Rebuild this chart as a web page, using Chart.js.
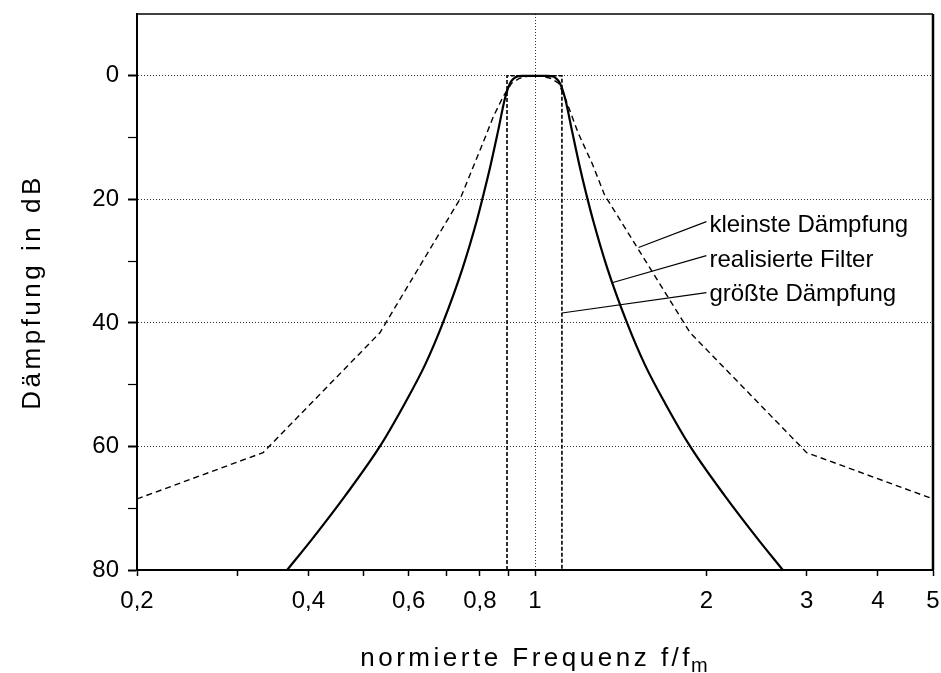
<!DOCTYPE html>
<html lang="de">
<head>
<meta charset="utf-8">
<title>Dämpfung in dB</title>
<script src="https://cdn.jsdelivr.net/npm/chart.js@4.4.1/dist/chart.umd.min.js"></script>
<style>
  html, body { margin: 0; padding: 0; background: #fff; }
  #wrap { width: 941px; height: 673px; }
</style>
</head>
<body>
<div id="wrap"><canvas id="daempfung" width="941" height="673"></canvas></div>
<script>
// Achsen: normierte Frequenz (log) und Dämpfung
const xTickValues = [0.2, 0.3, 0.4, 0.5, 0.6, 0.7, 0.8, 0.9, 1, 2, 3, 4, 5];
const xTickLabels = { 0.2: '0,2', 0.4: '0,4', 0.6: '0,6', 0.8: '0,8', 1: '1', 2: '2', 3: '3', 4: '4', 5: '5' };
const yTickValues = [0, 10, 20, 30, 40, 50, 60, 70, 80];
const yTickLabels = [0, 20, 40, 60, 80];

// realisierte Filter
const filterFreq = [0.367, 0.406, 0.464, 0.534, 0.591, 0.641, 0.689, 0.747, 0.791, 0.810, 0.834, 0.861, 0.886, 0.904, 0.919, 0.934, 0.953,
                    1.049, 1.071, 1.088, 1.106, 1.129, 1.162, 1.199, 1.234, 1.264, 1.338, 1.451, 1.56, 1.692, 1.873, 2.155, 2.463, 2.724];
const filterDb   = [80, 75, 68, 60, 53, 46.8, 40, 31, 23.3, 19.6, 14.8, 9.0, 3.6, 1.2, 0.4, 0.05, 0,
                    0, 0.05, 0.4, 1.2, 3.6, 9.0, 14.8, 19.6, 23.3, 31, 40, 46.8, 53, 60, 68, 75, 80];

// kleinste Dämpfung
const minFreq = [0.2, 0.333, 0.534, 0.74, 0.78, 0.81, 0.845, 0.88, 0.91, 0.94, 0.97,
                 1.03, 1.065, 1.10, 1.13, 1.19, 1.26, 1.325, 1.873, 3.0, 5.0];
const minDb   = [68.5, 61, 41.6, 19.8, 14.6, 10.9, 6.6, 3.3, 1.2, 0.4, 0.1,
                 0.1, 0.4, 1.2, 3.6, 9.2, 14.2, 19.3, 41.6, 61, 68.5];

// größte Dämpfung (Durchlassbereich)
const maxFreq = [0.893, 0.893, 1.115, 1.115];
const maxDb   = [80, 0, 0, 80];

// Beschriftungen mit Hinweislinien
const noteTexts      = ['kleinste Dämpfung', 'realisierte Filter', 'größte Dämpfung'];
const noteTargetFreq = [1.52, 1.365, 1.115];
const noteTargetDb   = [27.8, 33.5, 38.4];
const noteLineFreq   = 2.0;
const noteLineEndDb  = [23.6, 29.1, 35.1];
const noteTextDb     = [25.3, 31.0, 36.5];

const FONT = '"Liberation Sans", Arial, Helvetica, sans-serif';

function toPoints(xs, ys) {
  return xs.map((x, i) => ({ x: x, y: ys[i] }));
}

// Rahmen, Achsentitel und Beschriftungen
const beschriftung = {
  id: 'beschriftung',
  afterDraw(chart) {
    const { ctx, chartArea: a, scales: { x, y } } = chart;
    ctx.save();
    ctx.strokeStyle = '#000';
    ctx.fillStyle = '#000';

    ctx.lineWidth = 1.5;
    ctx.beginPath(); ctx.moveTo(a.left, a.top); ctx.lineTo(a.right, a.top); ctx.stroke();
    ctx.lineWidth = 2.5;
    ctx.beginPath(); ctx.moveTo(a.right, a.top); ctx.lineTo(a.right, a.bottom); ctx.stroke();

    ctx.lineWidth = 1.2;
    ctx.font = '24px ' + FONT;
    ctx.textAlign = 'left';
    ctx.textBaseline = 'alphabetic';
    noteTexts.forEach((t, i) => {
      const x1 = x.getPixelForValue(noteTargetFreq[i]);
      const y1 = y.getPixelForValue(noteTargetDb[i]);
      const x2 = x.getPixelForValue(noteLineFreq);
      const y2 = y.getPixelForValue(noteLineEndDb[i]);
      ctx.beginPath(); ctx.moveTo(x1, y1); ctx.lineTo(x2, y2); ctx.stroke();
      ctx.fillText(t, x2 + 3, y.getPixelForValue(noteTextDb[i]));
    });

    // y-Achsentitel
    ctx.save();
    ctx.font = '26px ' + FONT;
    ctx.letterSpacing = '3.5px';
    ctx.translate(33, (a.top + a.bottom) / 2);
    ctx.rotate(-Math.PI / 2);
    ctx.textAlign = 'center';
    ctx.textBaseline = 'middle';
    ctx.fillText('Dämpfung in dB', 0, 0);
    ctx.restore();

    // x-Achsentitel mit Index m
    const main = 'normierte Frequenz f/f';
    ctx.font = '26px ' + FONT;
    ctx.letterSpacing = '3.5px';
    const w1 = ctx.measureText(main).width;
    ctx.font = '20px ' + FONT;
    ctx.letterSpacing = '0px';
    const w2 = ctx.measureText('m').width;
    const start = (a.left + a.right) / 2 - (w1 + w2) / 2;
    ctx.font = '26px ' + FONT;
    ctx.letterSpacing = '3.5px';
    ctx.fillText(main, start, 666);
    ctx.font = '20px ' + FONT;
    ctx.letterSpacing = '0px';
    ctx.fillText('m', start + w1 - 2, 672);

    ctx.restore();
  }
};

new Chart(document.getElementById('daempfung'), {
  type: 'scatter',
  data: {
    datasets: [
      {
        label: 'realisierte Filter',
        data: toPoints(filterFreq, filterDb),
        showLine: true,
        borderColor: '#000',
        borderWidth: 2.2,
        pointRadius: 0,
        cubicInterpolationMode: 'monotone'
      },
      {
        label: 'kleinste Dämpfung',
        data: toPoints(minFreq, minDb),
        showLine: true,
        borderColor: '#000',
        borderWidth: 1.4,
        borderDash: [6, 4],
        pointRadius: 0,
        tension: 0
      },
      {
        label: 'größte Dämpfung',
        data: toPoints(maxFreq, maxDb),
        showLine: true,
        borderColor: '#000',
        borderWidth: 1.6,
        borderDash: [4, 2],
        pointRadius: 0,
        tension: 0
      }
    ]
  },
  options: {
    responsive: false,
    animation: false,
    devicePixelRatio: 1,
    layout: { padding: { top: 14, right: 8, left: 0, bottom: 0 } },
    plugins: { legend: { display: false }, tooltip: { enabled: false } },
    scales: {
      x: {
        type: 'logarithmic',
        min: 0.2,
        max: 5,
        afterBuildTicks: s => { s.ticks = xTickValues.map(v => ({ value: v })); },
        afterFit: s => { s.height = 103; s.paddingLeft = 0; s.paddingRight = 0; },
        ticks: {
          autoSkip: false,
          maxRotation: 0,
          padding: 11,
          color: '#000',
          font: { family: FONT, size: 24 },
          callback: v => xTickLabels[v] || ''
        },
        grid: {
          color: c => (c.tick && c.tick.value === 1) ? '#333' : 'rgba(0,0,0,0)',
          lineWidth: 1,
          tickLength: 6,
          tickColor: '#000',
          tickWidth: 1.5
        },
        border: { color: '#000', width: 2, dash: [1, 2] }
      },
      y: {
        type: 'linear',
        reverse: true,
        min: -10,
        max: 80,
        afterBuildTicks: s => { s.ticks = yTickValues.map(v => ({ value: v })); },
        afterFit: s => { s.width = 137; s.paddingTop = 0; s.paddingBottom = 0; },
        ticks: {
          padding: 9,
          color: '#000',
          font: { family: FONT, size: 24 },
          callback: v => yTickLabels.includes(v) ? String(v) : ''
        },
        grid: {
          color: c => (c.tick && yTickLabels.includes(c.tick.value) && c.tick.value !== 80) ? '#333' : 'rgba(0,0,0,0)',
          lineWidth: 1,
          tickLength: 9,
          tickColor: '#000',
          tickWidth: c => (c.tick && yTickLabels.includes(c.tick.value)) ? 2 : 1.2
        },
        border: { color: '#000', width: 2, dash: [1, 2] }
      }
    }
  },
  plugins: [beschriftung]
});
</script>
</body>
</html>
